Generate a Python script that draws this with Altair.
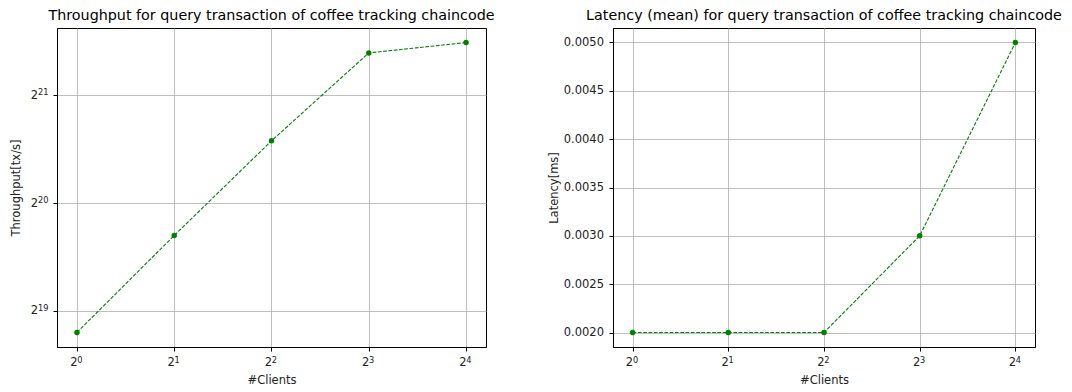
import altair as alt
import pandas as pd

# data
clients = [1, 2, 4, 8, 16]
throughput = [456400, 851700, 1565300, 2755700, 2945200]
latency = [0.0020, 0.0020, 0.0020, 0.0030, 0.0050]

# tick values and labels (2^n with n as superscript)
x_ticks = [1, 2, 4, 8, 16]
x_exps = ["0", "1", "2", "3", "4"]
thr_ticks = [2 ** 19, 2 ** 20, 2 ** 21]
thr_exps = ["19", "20", "21"]
lat_ticks = [0.0020, 0.0025, 0.0030, 0.0035, 0.0040, 0.0045, 0.0050]

df = pd.DataFrame({"clients": clients, "throughput": throughput, "latency": latency})
xexp_df = pd.DataFrame({"clients": x_ticks, "exp": x_exps})
yexp_df = pd.DataFrame({"throughput": thr_ticks, "exp": thr_exps})

FONT = "DejaVu Sans"
GREEN = "#008000"
H = 319
FS = 11.5
EXP_FS = 8.2

x_enc = alt.X(
    "clients:Q",
    scale=alt.Scale(type="log", base=2, domain=[2 ** -0.205, 2 ** 4.205], nice=False, zero=False),
    axis=alt.Axis(values=x_ticks, labelExpr="'2'", labelOffset=-3.6, labelPadding=5.5,
                  title="#Clients", titlePadding=6),
)


def panel(field, title, ytitle, scale, axis, width):
    base = alt.Chart(df).encode(
        x=x_enc,
        y=alt.Y(f"{field}:Q", scale=scale, axis=axis, title=ytitle),
    )
    line = base.mark_line(color=GREEN, strokeDash=[3.7, 1.6], strokeWidth=1.1)
    pts = base.mark_point(filled=True, color=GREEN, size=30, opacity=1)
    xexp = alt.Chart(xexp_df).mark_text(
        align="left", baseline="middle", dx=0.3, fontSize=EXP_FS, font=FONT, color="#222222"
    ).encode(x=alt.X("clients:Q"), y=alt.value(H + 14), text="exp:N")
    return [line, pts, xexp], dict(
        width=width,
        height=H,
        title=alt.TitleParams(title, fontSize=14.3, font=FONT, fontWeight="normal",
                              anchor="middle", offset=5, color="black"),
    )


l_layers, l_props = panel(
    "throughput",
    "Throughput for query transaction of coffee tracking chaincode",
    "Throughput[tx/s]",
    alt.Scale(type="log", base=2, domain=[2 ** 18.665, 2 ** 21.625], nice=False, zero=False),
    alt.Axis(values=thr_ticks, labelExpr="'2'", labelPadding=15.5,
             minExtent=27, maxExtent=27, titlePadding=8.5),
    429,
)
yexp = alt.Chart(yexp_df).mark_text(
    align="left", baseline="middle", dy=-2, fontSize=EXP_FS, font=FONT, color="#222222"
).encode(x=alt.value(-19), y=alt.Y("throughput:Q"), text="exp:N")
left = alt.layer(*l_layers, yexp).properties(**l_props)

r_layers, r_props = panel(
    "latency",
    "Latency (mean) for query transaction of coffee tracking chaincode",
    "Latency[ms]",
    alt.Scale(domain=[0.00185, 0.00515], nice=False, zero=False),
    alt.Axis(values=lat_ticks, format=".4f", labelPadding=5.5,
             minExtent=48, maxExtent=48, titlePadding=6),
    422,
)
right = alt.layer(*r_layers).properties(**r_props)

chart = alt.hconcat(left, right, spacing=127, bounds="flush").properties(
    padding={"left": 2, "top": 0, "right": 0, "bottom": 0}, background="white"
).configure_view(
    stroke="black", strokeWidth=1
).configure_axis(
    grid=True,
    gridColor="#b0b0b0",
    gridWidth=0.8,
    domainColor="black",
    domainWidth=1,
    tickColor="black",
    tickSize=4,
    labelFont=FONT,
    labelFontSize=FS,
    labelColor="#222222",
    titleFont=FONT,
    titleFontSize=FS,
    titleFontWeight="normal",
    titleColor="#222222",
)

chart.save("out.html", embed_options={"renderer": "svg", "actions": False})
